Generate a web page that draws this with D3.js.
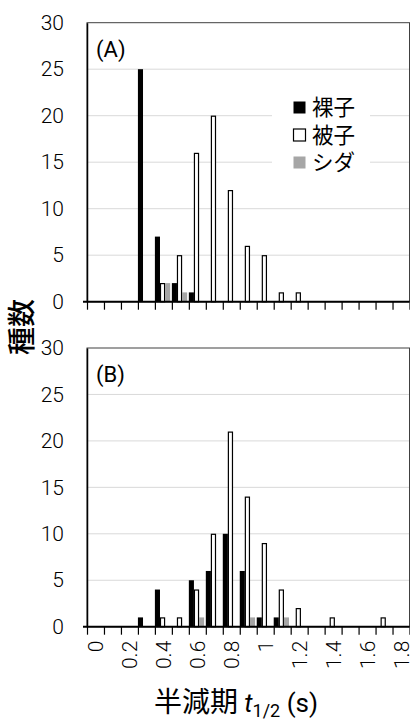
<!DOCTYPE html>
<html>
<head>
<meta charset="utf-8">
<script src="https://cdn.jsdelivr.net/npm/d3@7/dist/d3.min.js"></script>
<style>
  body { margin: 0; background: #fff; }
  svg { display: block; }
  text { font-family: Roboto, "Noto Sans", sans-serif; fill: #000; }
  .jp { font-family: "Noto Sans CJK JP", "Noto Sans", sans-serif; }
</style>
</head>
<body>
<svg id="chart" width="410" height="719"></svg>
<script>
// half-life bins (s)
const categories = [0, 0.1, 0.2, 0.3, 0.4, 0.5, 0.6, 0.7, 0.8, 0.9, 1, 1.1, 1.2, 1.3, 1.4, 1.5, 1.6, 1.7, 1.8];
const seriesNames = ["裸子", "被子", "シダ"];

// (A) species counts per bin
const gymnoA = [0, 0, 0, 25, 7, 2, 1, 0, 0, 0, 0, 0, 0, 0, 0, 0, 0, 0, 0];
const angioA = [0, 0, 0, 0, 2, 5, 16, 20, 12, 6, 5, 1, 1, 0, 0, 0, 0, 0, 0];
const fernA  = [0, 0, 0, 0, 2, 1, 0, 0, 0, 0, 0, 0, 0, 0, 0, 0, 0, 0, 0];

// (B)
const gymnoB = [0, 0, 0, 1, 4, 0, 5, 6, 10, 6, 1, 1, 0, 0, 0, 0, 0, 0, 0];
const angioB = [0, 0, 0, 0, 1, 1, 4, 10, 21, 14, 9, 4, 2, 0, 1, 0, 0, 1, 0];
const fernB  = [0, 0, 0, 0, 0, 0, 1, 0, 0, 1, 0, 1, 0, 0, 0, 0, 0, 0, 0];

const yTicks = [0, 5, 10, 15, 20, 25, 30];
const gridTicks = [5, 10, 15, 20, 25];

const svg = d3.select("#chart");
const left = 87, right = 409.5;

const x = d3.scaleBand().domain(categories).range([left, right]).padding(0);
const xEdge = d3.scaleLinear().domain([0, categories.length]).range([left, right]);
const slot = x.bandwidth() * 0.3;

const styles = [
  { fill: "#000", stroke: "none" },
  { fill: "#fff", stroke: "#000" },
  { fill: "#a6a6a6", stroke: "none" }
];

function panel(top, bottom, series, label, showLabels) {
  const y = d3.scaleLinear().domain([0, 30]).range([bottom, top]);
  const g = svg.append("g");

  // grid
  g.selectAll(".grid").data(gridTicks).enter().append("line")
    .attr("x1", left).attr("x2", right)
    .attr("y1", d => y(d)).attr("y2", d => y(d))
    .attr("stroke", "#d9d9d9").attr("stroke-width", 1);

  // frame
  g.append("rect")
    .attr("x", left).attr("y", top)
    .attr("width", right - left).attr("height", bottom - top)
    .attr("fill", "none").attr("stroke", "#404040").attr("stroke-width", 1);

  // bars
  series.forEach((vals, s) => {
    const outlined = styles[s].stroke !== "none";
    g.selectAll(".bar" + s).data(vals.map((v, i) => ({ c: categories[i], v: v })).filter(d => d.v > 0))
      .enter().append("rect")
      .attr("x", d => x(d.c) + s * slot + (outlined ? 0.5 : 0))
      .attr("y", d => y(d.v) + (outlined ? 0.5 : 0))
      .attr("width", outlined ? slot - 1 : slot)
      .attr("height", d => bottom - y(d.v) - (outlined ? 0.5 : 0))
      .attr("fill", styles[s].fill)
      .attr("stroke", styles[s].stroke)
      .attr("stroke-width", 1.2);
  });

  // y axis
  const ya = g.append("g").attr("transform", `translate(${left},0)`)
    .call(d3.axisLeft(y).tickValues(yTicks).tickSize(0).tickPadding(23));
  ya.select(".domain").attr("stroke", "#000").attr("stroke-width", 1.5);
  ya.selectAll("text").attr("font-size", 21).attr("font-family", "Roboto, sans-serif")
    .attr("font-weight", 300).attr("fill", "#000");

  // x axis ticks at bin edges
  const xa = g.append("g").attr("transform", `translate(0,${bottom})`)
    .call(d3.axisBottom(xEdge).tickValues(d3.range(categories.length + 1)).tickSize(8).tickFormat(""));
  xa.select(".domain").remove();
  xa.selectAll("line").attr("stroke", "#000").attr("stroke-width", 1.2);
  g.append("line").attr("x1", left - 4).attr("x2", right).attr("y1", bottom).attr("y2", bottom)
    .attr("stroke", "#000").attr("stroke-width", 2);

  if (showLabels) {
    g.selectAll(".xl").data(categories.filter((c, i) => i % 2 === 0)).enter().append("text")
      .attr("transform", d => `translate(${x(d) + x.bandwidth() / 2},${bottom + 14}) rotate(-90)`)
      .attr("text-anchor", "end").attr("dy", "0.36em")
      .attr("font-size", 21).attr("font-weight", 300)
      .text(d => String(d));
  }

  g.append("text").attr("x", left + 9).attr("y", top + 34)
    .attr("font-size", 22).text(label);
}

panel(22.7, 301.7, [gymnoA, angioA, fernA], "(A)", false);
panel(348, 626.7, [gymnoB, angioB, fernB], "(B)", true);

// legend in panel A
const lg = svg.append("g");
lg.append("rect").attr("x", 272).attr("y", 92).attr("width", 98).attr("height", 84).attr("fill", "#fff");
seriesNames.forEach((name, i) => {
  const cy = 107.5 + i * 27.5;
  lg.append("rect").attr("x", 293.5).attr("y", cy - 6).attr("width", 12).attr("height", 12)
    .attr("fill", styles[i].fill).attr("stroke", styles[i].stroke).attr("stroke-width", 1.2);
  lg.append("text").attr("class", "jp").attr("x", 312).attr("y", cy).attr("dy", "0.36em")
    .attr("font-size", 21.5).text(name);
});

// axis titles
svg.append("text").attr("class", "jp")
  .attr("transform", "translate(22,327) rotate(-90)")
  .attr("text-anchor", "middle").attr("dy", "0.36em")
  .attr("font-size", 28).attr("font-weight", 500).text("種数");

const xt = svg.append("text").attr("x", 154).attr("y", 712).attr("font-size", 26);
xt.append("tspan").attr("class", "jp").attr("font-size", 28).text("半減期 ");
xt.append("tspan").attr("font-style", "italic").text("t");
xt.append("tspan").attr("font-size", 18).attr("dy", 5).text("1/2");
xt.append("tspan").attr("dy", -5).text(" (s)");
</script>
</body>
</html>
